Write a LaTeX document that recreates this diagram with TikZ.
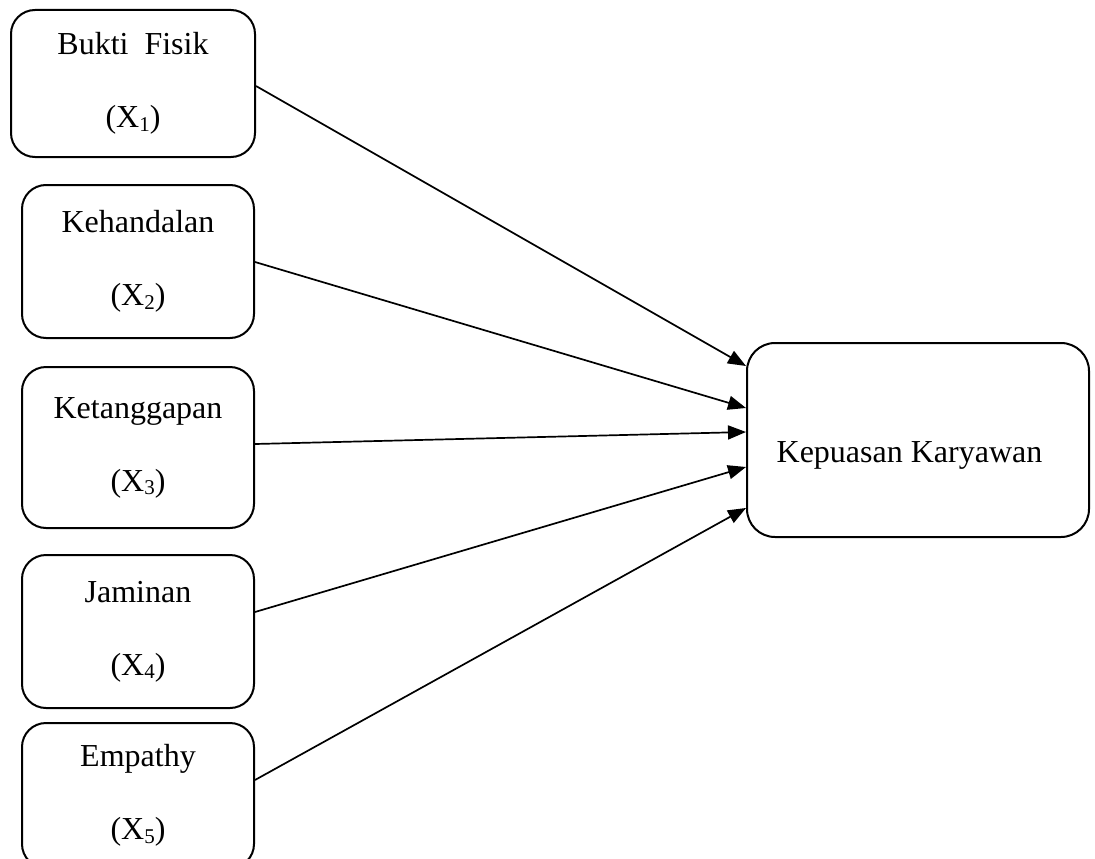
\documentclass[tikz,border=0pt]{standalone}
\usepackage{fontspec}
\setmainfont{Liberation Serif}
\usetikzlibrary{arrows.meta}
\newcommand{\subx}[1]{\raisebox{-0.25ex}{\fontsize{21}{21}\selectfont #1}}
\tikzset{
  varbox/.style={draw, line width=2pt, rounded corners=24pt, inner sep=0pt,
    align=center, font=\fontsize{32}{73}\selectfont},
  bigbox/.style={draw, line width=2pt, rounded corners=28pt, inner sep=0pt},
  lbl/.style={inner sep=0pt, font=\fontsize{32}{38}\selectfont},
  conn/.style={line width=1.7pt, -{Triangle[length=18pt,width=14pt]}},
}
\begin{document}
\begin{tikzpicture}[x=1pt,y=-1pt]
\useasboundingbox (0,0) rectangle (1095,859);
\clip (0,0) rectangle (1095,859);
\node[varbox, minimum width=244pt, minimum height=147pt] (b1) at (133,83.5) {Bukti\ \ Fisik\\(X\subx{1})};
\node[varbox, minimum width=232pt, minimum height=153pt] (b2) at (138,261.5) {Kehandalan\\(X\subx{2})};
\node[varbox, minimum width=232pt, minimum height=161pt] (b3) at (138,447.5) {Ketanggapan\\(X\subx{3})};
\node[varbox, minimum width=232pt, minimum height=153pt] (b4) at (138,631.5) {Jaminan\\(X\subx{4})};
\node[varbox, minimum width=232pt, minimum height=145pt] (b5) at (138,795.5) {Empathy\\(X\subx{5})};
\node[bigbox, minimum width=342pt, minimum height=194pt] (y) at (918,440) {};
\node[lbl, anchor=base] (ytext) at (909.5,462) {Kepuasan Karyawan};
\draw[conn] ([yshift=-2.5pt]b1.east) -- ([yshift=74pt]y.west);
\draw[conn] ([yshift=-0.5pt]b2.east) -- ([yshift=32pt]y.west);
\draw[conn] ([yshift=3.5pt]b3.east) -- ([yshift=8pt]y.west);
\draw[conn] ([yshift=19.5pt]b4.east) -- ([yshift=-27pt]y.west);
\draw[conn] ([yshift=15.5pt]b5.east) -- ([yshift=-68pt]y.west);
\end{tikzpicture}
\end{document}
